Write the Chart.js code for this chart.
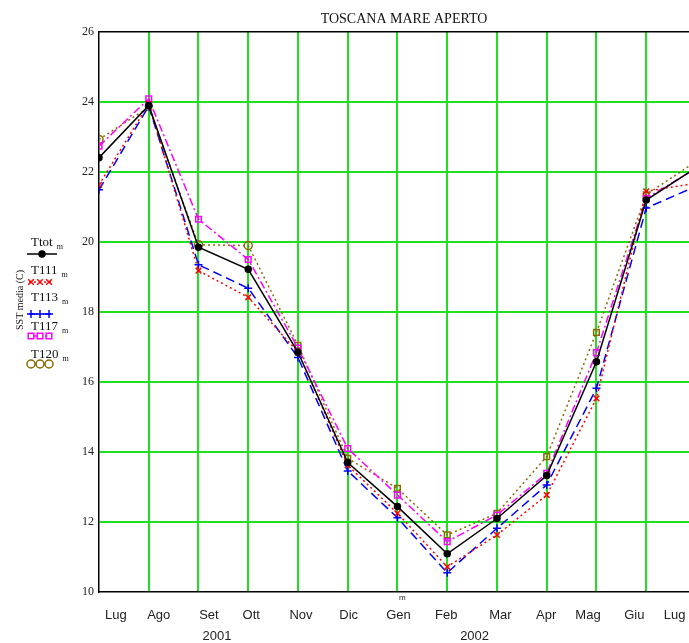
<!DOCTYPE html>
<html>
<head>
<meta charset="utf-8">
<script src="https://cdn.jsdelivr.net/npm/chart.js@4/dist/chart.umd.min.js"></script>
<style>
  html, body { margin: 0; padding: 0; background: #fff; overflow: hidden; }
  #wrap { width: 689px; height: 643px; position: relative; }
</style>
</head>
<body>
<div id="wrap"><canvas id="sstChart"></canvas></div>
<script>
// month points, Lug 2001 .. Lug 2002
const months = ['Lug', 'Ago', 'Set', 'Ott', 'Nov', 'Dic', 'Gen', 'Feb', 'Mar', 'Apr', 'Mag', 'Giu', 'Lug'];
const years = ['2001', '2002'];
const chartTitle = 'TOSCANA MARE APERTO';
const yLabel = 'SST media (C)';

const ttot = [22.41, 23.9, 19.85, 19.22, 16.85, 13.7, 12.44, 11.09, 12.1, 13.33, 16.58, 21.2, 22.12];
const t111 = [21.63, 23.95, 19.18, 18.42, 16.85, 13.62, 12.25, 10.72, 11.63, 12.77, 15.53, 21.45, 21.68];
const t113 = [21.49, 23.88, 19.35, 18.68, 16.7, 13.46, 12.12, 10.55, 11.82, 13.06, 15.82, 20.97, 21.59];
const t117 = [22.74, 24.09, 20.65, 19.5, 16.97, 14.1, 12.77, 11.44, 12.2, 13.39, 16.84, 21.25, 22.1];
const t120 = [22.93, 23.85, 19.92, 19.9, 17.05, 13.82, 12.96, 11.63, 12.25, 13.87, 17.42, 21.35, 22.3];

// where the hand placed labels sit along the x axis (in month units)
const monthLabelPos = [0.34, 1.2, 2.21, 3.06, 4.06, 5.02, 6.02, 6.98, 8.07, 8.99, 9.83, 10.76, 11.57];
const yearLabelPos = [2.37, 7.55];
const xMax = 11.86;

const GREEN = '#1fe01f';
const SERIF = '"Liberation Serif", "DejaVu Serif", serif';
const SANS = '"Liberation Sans", Arial, sans-serif';

const toXY = arr => arr.map((v, i) => ({ x: i, y: v }));
const t120Styles = months.map((m, i) => (i === 0 || i === 2 || i === 3) ? 'circle' : 'rect');

const series = [
  { label: 'Ttot', sub: 'm', data: ttot, color: '#000000', dash: [], style: 'circle', r: 3, fill: '#000000' },
  { label: 'T111', sub: 'm', data: t111, color: '#ff0000', dash: [2, 3], style: 'crossRot', r: 4, fill: '#ff0000' },
  { label: 'T113', sub: 'm', data: t113, color: '#0000ff', dash: [9, 5], style: 'cross', r: 4, fill: '#0000ff' },
  { label: 'T117', sub: 'm', data: t117, color: '#ff00ff', dash: [8, 3, 2, 3], style: 'rect', r: 4, fill: 'rgba(255,255,255,0)' },
  { label: 'T120', sub: 'm', data: t120, color: '#8a6a00', dash: [2, 3], style: t120Styles, r: 4, fill: 'rgba(255,255,255,0)' },
];

// draws the title, rotated y label and the stacked legend on the left
const sideText = {
  id: 'sideText',
  afterDraw(chart) {
    const c = chart.ctx;
    c.save();
    c.fillStyle = '#111';
    c.textAlign = 'center';
    c.textBaseline = 'middle';
    c.font = '14px ' + SERIF;
    c.fillText(chartTitle, 404, 19);

    c.save();
    c.translate(20, 300);
    c.rotate(-Math.PI / 2);
    c.font = '10px ' + SERIF;
    c.fillText(yLabel, 0, 0);
    c.restore();

    const textY = [243, 271, 298, 327, 355];
    const sampleY = [254, 282, 314, 336, 364];
    series.forEach((s, i) => {
      c.textAlign = 'left';
      c.fillStyle = '#111';
      c.font = '13px ' + SERIF;
      c.fillText(s.label, 31, textY[i]);
      const w = c.measureText(s.label).width;
      c.font = '8px ' + SERIF;
      c.fillText(s.sub, 31 + w + 4, textY[i] + 4);

      const y = sampleY[i];
      c.strokeStyle = s.color;
      c.lineWidth = 1.5;
      c.setLineDash(s.dash);
      c.beginPath();
      if (i === 0) { c.moveTo(27, y); c.lineTo(57, y); } else { c.moveTo(29, y); c.lineTo(51, y); }
      c.stroke();
      c.setLineDash([]);
      const style = Array.isArray(s.style) ? 'circle' : s.style;
      const xs = i === 0 ? [42] : [31, 40, 49];
      xs.forEach(x => {
        c.fillStyle = i === 0 ? s.fill : '#ffffff';
        c.strokeStyle = s.color;
        c.lineWidth = 1.5;
        Chart.helpers.drawPoint(c, { pointStyle: style, radius: s.r, borderWidth: 1.5, rotation: 0 }, x, y);
      });
    });
    c.restore();
  }
};

// no side padding: keep the plot running to the right edge of the canvas
const noSidePad = (s, h) => { s.height = h; s.paddingLeft = 0; s.paddingRight = 0; };

const labelAxis = (positions, names, size, pad, height) => ({
  type: 'linear',
  position: 'bottom',
  min: 0,
  max: xMax,
  afterBuildTicks: s => { s.ticks = positions.map(v => ({ value: v })); },
  afterFit: s => noSidePad(s, height),
  grid: { display: false, drawTicks: false },
  border: { display: false },
  ticks: {
    autoSkip: false,
    maxRotation: 0,
    padding: pad,
    color: '#222',
    font: { family: SANS, size },
    callback: (v, i) => names[i],
  },
});

const ctx = document.getElementById('sstChart').getContext('2d');
const chart = new Chart(ctx, {
  type: 'line',
  data: {
    datasets: series.map(s => ({
      label: s.label,
      data: toXY(s.data),
      borderColor: s.color,
      borderWidth: 1.5,
      borderDash: s.dash,
      pointStyle: s.style,
      pointRadius: s.r,
      pointBorderWidth: 1.5,
      pointBorderColor: s.color,
      pointBackgroundColor: s.fill,
      tension: 0,
      fill: false,
    })),
  },
  options: {
    responsive: true,
    maintainAspectRatio: false,
    animation: false,
    layout: { padding: 0, autoPadding: false },
    plugins: { legend: { display: false }, title: { display: false }, tooltip: { enabled: false } },
    scales: {
      x: {
        type: 'linear',
        position: 'bottom',
        min: 0,
        max: xMax,
        afterBuildTicks: s => { s.ticks = months.slice(1, 12).map((m, i) => ({ value: i + 1 })); },
        afterFit: s => noSidePad(s, 0),
        ticks: { display: false },
        grid: { drawTicks: false, lineWidth: 2, color: GREEN },
        border: { display: true, color: '#000', width: 1.5 },
      },
      xm: labelAxis([6.1], ['m'], 8, 1, 10),
      xl: labelAxis(monthLabelPos, months, 13, 6, 20),
      xy: labelAxis(yearLabelPos, years, 13, 7, 21),
      xt: {
        type: 'linear',
        position: 'top',
        min: 0,
        max: xMax,
        afterFit: s => noSidePad(s, 32),
        ticks: { display: false },
        grid: { display: false, drawTicks: false },
        border: { display: true, color: '#000', width: 1.5 },
      },
      y: {
        min: 10,
        max: 26,
        afterFit: s => { s.width = 99; },
        ticks: { stepSize: 2, padding: 5, color: '#222', font: { family: SERIF, size: 12 } },
        grid: {
          drawTicks: false,
          lineWidth: 2,
          color: c => (c.tick && (c.tick.value === 10 || c.tick.value === 26)) ? 'rgba(0,0,0,0)' : GREEN,
        },
        border: { display: true, color: '#000', width: 1.5 },
      },
    },
  },
  plugins: [sideText],
});
</script>
</body>
</html>
